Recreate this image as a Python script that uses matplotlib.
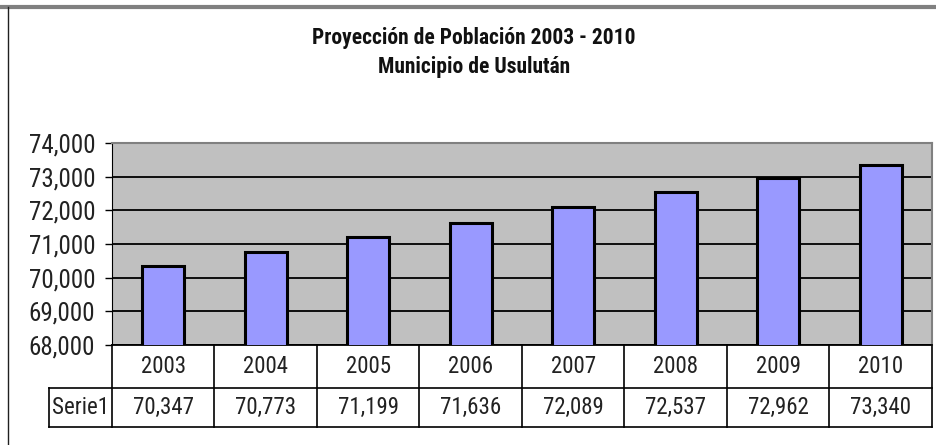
import matplotlib
matplotlib.use('Agg')
import matplotlib.pyplot as plt
from matplotlib import transforms
from matplotlib.lines import Line2D

# population projection, Usulután
years = ['2003', '2004', '2005', '2006', '2007', '2008', '2009', '2010']
population = [70347, 70773, 71199, 71636, 72089, 72537, 72962, 73340]
series_name = 'Serie1'
y_ticks = [68000, 69000, 70000, 71000, 72000, 73000, 74000]

FONT = ['Liberation Sans Narrow', 'Roboto Condensed', 'DejaVu Sans']
plt.rcParams['font.family'] = FONT

W, H = 937, 445
fig = plt.figure(figsize=(W / 100, H / 100), dpi=100)
fig.patch.set_facecolor('white')

# chart frame: heavy top edge, thin left edge
fig.add_artist(Line2D([0, 1], [1 - 6.5 / H, 1 - 6.5 / H], transform=fig.transFigure,
                      color='#808080', lw=3))
fig.add_artist(Line2D([8.5 / W, 8.5 / W], [0, 1 - 6.5 / H], transform=fig.transFigure,
                      color='#202020', lw=1))

left, right, top, bottom = 112, 932, 143, 345
ax = fig.add_axes([left / W, 1 - bottom / H, (right - left) / W, (bottom - top) / H])
ax.set_facecolor('#c0c0c0')

x = list(range(len(years)))
ax.bar(x, population, width=0.41, color='#9999ff', edgecolor='black', linewidth=2.2,
       zorder=3)

ax.set_xlim(-0.5, len(years) - 0.5)
ax.set_ylim(y_ticks[0], y_ticks[-1])
ax.set_yticks(y_ticks)
ax.set_yticklabels([f'{v:,}' for v in y_ticks], fontsize=18, color='#222222')
ax.yaxis.grid(True, color='black', lw=1.3, zorder=1)
ax.set_axisbelow(True)
ax.tick_params(axis='y', length=5, width=1, color='black', pad=7)
ax.tick_params(axis='x', length=0, labelbottom=False)

for side in ['top', 'right']:
    ax.spines[side].set_color('#808080')
    ax.spines[side].set_linewidth(1.5)
ax.spines['left'].set_color('black')
ax.spines['bottom'].set_color('black')
ax.spines['bottom'].set_linewidth(1.3)

# data table below the plot: x in data units, y in axes units
tr = transforms.blended_transform_factory(ax.transData, ax.transAxes)
plot_h = bottom - top
row1 = -(388 - bottom) / plot_h
row2 = -(427 - bottom) / plot_h
label_w = (112 - 49) / ((right - left) / len(years))
x0 = -0.5 - label_w
x_end = len(years) - 0.5

kw = dict(transform=tr, color='black', lw=1.2, clip_on=False)
ax.add_line(Line2D([x0, x_end], [row1, row1], **kw))
ax.add_line(Line2D([x0, x_end], [row2, row2], **kw))
ax.add_line(Line2D([x0, x0], [row1, row2], **kw))
for i in range(len(years) + 1):
    ax.add_line(Line2D([i - 0.5, i - 0.5], [0, row2], **kw))

for i, (yr, val) in enumerate(zip(years, population)):
    ax.text(i, row1 / 2, yr, transform=tr, ha='center', va='center',
            fontsize=16.5, color='#222222')
    ax.text(i, (row1 + row2) / 2, f'{val:,}', transform=tr, ha='center',
            va='center', fontsize=16.5, color='#222222')
ax.text((x0 - 0.5) / 2, (row1 + row2) / 2, series_name, transform=tr,
        ha='center', va='center', fontsize=16.5, color='#222222')

fig.text(474 / W, 1 - 38 / H, 'Proyección de Población 2003 - 2010', ha='center',
         va='center', fontsize=15.5, fontweight='bold', color='#111111')
fig.text(474 / W, 1 - 67 / H, 'Municipio de Usulután', ha='center', va='center',
         fontsize=15.5, fontweight='bold', color='#111111')

fig.savefig('out.png', dpi=100, facecolor='white')
